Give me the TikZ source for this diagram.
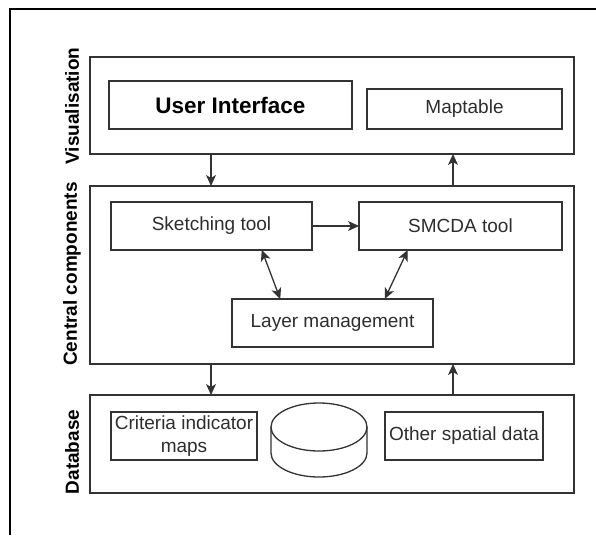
\documentclass[tikz,border=0pt]{standalone}
\usepackage{fontspec}
\setmainfont{Liberation Sans}
\usepackage{tikz}
\usetikzlibrary{arrows.meta,calc}
\definecolor{frameline}{RGB}{0, 0, 0}
\definecolor{boxline}{RGB}{51, 51, 51}
\definecolor{boxtext}{RGB}{45, 45, 45}

\tikzset{
    tierbox/.style   = {draw=boxline, line width=1.3pt, inner sep=0pt, outer sep=0pt, minimum width=484pt},
    partbox/.style   = {draw=boxline, line width=1.3pt, inner sep=0pt, outer sep=0pt, text=boxtext,
                        font=\fontsize{19}{23}\selectfont},
    tierlabel/.style = {rotate=90, font=\bfseries\fontsize{19}{23}\selectfont},
    flowarrow/.style = {draw=boxline, line width=1.3pt, -{Stealth[length=11pt, width=10pt, inset=3pt]}},
    twoway/.style    = {draw=boxline, line width=1.3pt,
                        {Stealth[length=11pt, width=10pt, inset=3pt]}-{Stealth[length=11pt, width=10pt, inset=3pt]}}
}

\begin{document}
\begin{tikzpicture}[x=1pt, y=-1pt]
            \useasboundingbox (0, 0) rectangle (596, 535);
            \draw[frameline, line width=2pt] (10, 535) -- (10, 9) -- (596, 9);

            \node[tierbox, minimum height=97pt]  (vis)     at (332, 105.5) {};
            \node[tierbox, minimum height=178pt] (central) at (332, 275.0) {};
            \node[tierbox, minimum height=98pt]  (db)      at (332, 444.0) {};

            \node[tierlabel] (vislabel)     at (72, 106) {Visualisation};
            \node[tierlabel] (centrallabel) at (72, 274) {Central components};
            \node[tierlabel] (dblabel)      at (72, 452) {Database};

            \node[partbox, minimum width=243pt, minimum height=48pt, text=black,
                  font=\bfseries\fontsize{22.5}{27}\selectfont]                     (ui)       at (230.5, 105) {User Interface};
            \node[partbox, minimum width=195pt, minimum height=40pt]                (maptable) at (464.5, 109) {Maptable};
            \node[partbox, minimum width=201pt, minimum height=48pt]                (sketch)   at (211.5, 226) {Sketching tool};
            \node[partbox, minimum width=203pt, minimum height=48pt]                (smcda)    at (460.5, 226) {SMCDA tool};
            \node[partbox, minimum width=201pt, minimum height=48pt]                (layers)   at (332.5, 323) {Layer management};
            \node[partbox, minimum width=146pt, minimum height=48pt, align=center]  (criteria) at (184.0, 436) {Criteria indicator\\maps};
            \node[partbox, minimum width=158pt, minimum height=48pt]                (other)    at (464.0, 436) {Other spatial data};

            \coordinate (store) at (319, 427);
            \draw[boxline, line width=1.3pt] (store) ++(-48, 0) -- ++(0, 26)
                 arc[start angle=180, end angle=360, x radius=48pt, y radius=24pt] -- ++(0, -26);
            \draw[boxline, line width=1.3pt] (store) ellipse [x radius=48pt, y radius=24pt];

            \draw[flowarrow] ($(vis.south west)!0.25!(vis.south east)$)         -- ($(central.north west)!0.25!(central.north east)$);
            \draw[flowarrow] ($(central.north west)!0.75!(central.north east)$) -- ($(vis.south west)!0.75!(vis.south east)$);
            \draw[flowarrow] ($(central.south west)!0.25!(central.south east)$) -- ($(db.north west)!0.25!(db.north east)$);
            \draw[flowarrow] ($(db.north west)!0.75!(db.north east)$)           -- ($(central.south west)!0.75!(central.south east)$);
            \draw[flowarrow] (sketch) -- (smcda);
            \draw[twoway]    ($(sketch.south west)!0.75!(sketch.south east)$)   -- ($(layers.north west)!0.24!(layers.north east)$);
            \draw[twoway]    ($(smcda.south west)!0.24!(smcda.south east)$)     -- ($(layers.north west)!0.76!(layers.north east)$);
        \end{tikzpicture}
\end{document}
